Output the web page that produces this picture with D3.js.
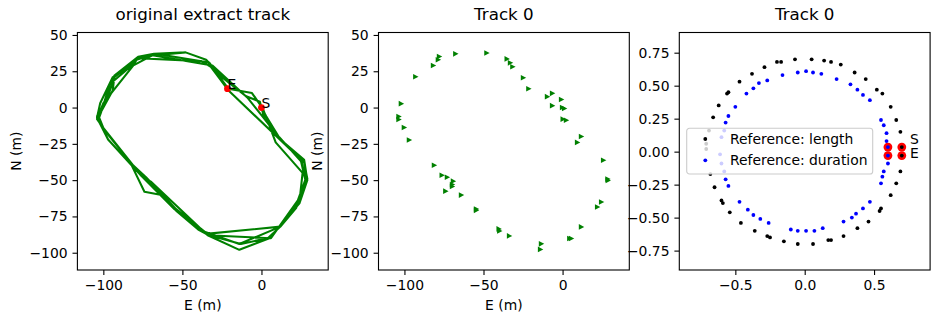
<html>
<head><meta charset="utf-8"></head>
<script src='https://d3js.org/d3.v7.min.js'></script>
<style>
body { margin: 0; background: white; }
text { font-family: 'DejaVu Sans', sans-serif; fill: black; }
</style>
<body>
<svg width=939 height=323></svg>
<script>
// GPS track, E / N in metres, several laps from S to E
const track = [
  [0,0],[3,-6],[12,-22],[27,-36],[29,-50],[24,-66],[13,-80],[5,-90],[-14,-98],[-34,-88],[-55,-70],[-76,-47],[-97,-22],[-104,-7],[-102,3],[-94,21],[-81,29],[-78,35],[-68,37],[-48,38],[-35,33],[-25,21],[-10,8],[-1,4],
  [2,-8],[11,-20],[25,-37],[28,-51],[22,-69],[12,-82],[-14,-94],[-40,-84],[-54,-71],[-69,-54],[-81,-40],[-100,-14],[-104,-6],[-97,8],[-93,21],[-79,33],[-67,37],[-33,31],[-21,13],[-6,10],[1,-1],
  [9,-24],[26,-45],[24,-65],[12,-82],[-35,-87],[-40,-84],[-64,-60],[-74,-58],[-82,-40],[-97,-22],[-103,-8],[-101,-2],[-96,16],[-82,29],[-78,34],[-38,32],[-32,28],[-21,12],[25,-36],
  [28,-49],[23,-64],[6,-90],[-34,-88],[-70,-51],[-76,-47],[-96,-20],[-104,-8],[-100,3],[-81,29],[-69,36],[-31,29],[-9,7],[2,-8],
  [12,-22],[27,-38],[29,-49],[22,-68],[12,-82],[4,-90],[-13,-94],[-33,-88],[-54,-70],[-73,-48],[-81,-40],[-100,-14],[-103,-6],[-94,12],[-93,22],[-78,35],[-48,38],[-35,33],[-21.5,13]
]
const trackMarks = [[0, 0, 'S'], [-21.5, 13, 'E']]

// resampled points of track 0
const sampleE = [-48,-67.7,-78,-78.7,-81.8,-35.2,-33.1,-31.6,-93,-24.9,-21.5,-6.5,-9.7,-0.8,-102.1,-6.5,-0.2,1.1,-103.6,-103.6,0.2,2.3,-100.2,-97,11.8,9.3,25.8,-81.2,-76.3,-73,-69.2,-69.8,-69.8,28.5,28.7,-74,-64.1,24.5,22,-54.6,-54.6,11.8,-40.3,-39.9,-33.7,4.4,5.5,-13.5,-14.1]
const sampleN = [37.6,37,35.1,32.9,29,33.5,30.8,28.1,21.2,20.5,13,9.8,7.5,5.5,2.7,1.3,0,-0.7,-6.2,-8.2,-8,-8.7,-13.7,-22.4,-19.9,-24,-36.3,-39.7,-46.6,-48,-50.7,-53,-54.4,-49.3,-50.2,-57.6,-60.3,-65.1,-68.5,-69.9,-70.8,-82.2,-83.6,-85,-88.4,-90.2,-90.2,-93.9,-97.7]

// reference by length (black) and by duration (blue)
const lengthX = [0.05,-0.07,0.14,0.19,-0.17,-0.2,0.26,-0.29,0.36,-0.38,0.44,-0.47,0.52,0.56,-0.55,-0.56,0.62,-0.62,0.66,-0.66,0.69,-0.69,-0.71,-0.71,-0.68,-0.65,-0.6,-0.59,-0.54,-0.46,-0.36,-0.27,-0.25,-0.15,-0.05,0.06,0.17,0.19,0.28,0.38,0.46,0.54,0.55,0.62,0.66,0.69,0.7,0.7]
const lengthY = [0.7,0.7,0.69,0.68,0.68,0.68,0.66,0.64,0.6,0.59,0.55,0.53,0.47,0.44,0.45,0.44,0.34,0.35,0.24,0.26,0.15,0.16,0.06,0.02,-0.17,-0.27,-0.37,-0.39,-0.46,-0.54,-0.6,-0.64,-0.65,-0.68,-0.7,-0.7,-0.67,-0.67,-0.64,-0.58,-0.53,-0.45,-0.43,-0.33,-0.24,-0.15,0.035,-0.03]
const durationX = [0.01,-0.05,0.06,0.12,-0.16,0.23,-0.27,-0.33,0.33,-0.37,0.38,-0.42,0.42,0.47,-0.5,-0.55,-0.57,-0.58,-0.6,0.55,0.57,0.59,0.59,0.6,0.6,0.6,0.57,0.56,0.55,-0.61,-0.6,-0.58,-0.57,-0.55,-0.47,-0.41,-0.37,-0.32,-0.26,-0.1,-0.05,0.01,0.07,0.13,0.28,0.34,0.37,0.42,0.47]
const durationY = [0.61,0.6,0.6,0.59,0.58,0.55,0.54,0.52,0.51,0.48,0.47,0.44,0.43,0.39,0.34,0.27,0.22,0.16,0.11,0.24,0.2,0.14,0.08,0.035,-0.03,-0.09,-0.15,-0.19,-0.24,-0.02,-0.09,-0.15,-0.21,-0.26,-0.38,-0.44,-0.48,-0.51,-0.54,-0.59,-0.6,-0.6,-0.6,-0.58,-0.53,-0.5,-0.47,-0.43,-0.38]
const refStartEnd = [[0.7, 0.035], [0.7, -0.03], [0.6, 0.035], [0.6, -0.03]]
const refLabels = [[0.76, 0.06, 'S'], [0.76, -0.05, 'E']]
const legendNames = ['Reference: length', 'Reference: duration']
const legendColors = ['black', 'blue']

// ticks
const eTicks = [-100, -50, 0]
const nTicks = [50, 25, 0, -25, -50, -75, -100]
const refXTicks = [-0.5, 0, 0.5]
const refYTicks = [0.75, 0.5, 0.25, 0, -0.25, -0.5, -0.75]

const svg = d3.select('svg')
const fs = 13.9
const plotTop = 32.5, W = 250.8, H = 237.5
const lefts = [77.4, 378.5, 679.3]

function panel(i, xDom, yDom, xT, yT, fx, fy, title, xlab, ylab) {
  const g = svg.append('g').attr('transform', `translate(${lefts[i]},${plotTop})`)
  const x = d3.scaleLinear().domain(xDom).range([0, W])
  const y = d3.scaleLinear().domain(yDom).range([H, 0])
  const xa = g.append('g').attr('transform', `translate(0,${H})`)
    .call(d3.axisBottom(x).tickValues(xT).tickFormat(d3.format(fx)).tickSizeOuter(0).tickSize(4.9).tickPadding(4.9))
  const ya = g.append('g')
    .call(d3.axisLeft(y).tickValues(yT).tickFormat(d3.format(fy)).tickSizeOuter(0).tickSize(4.9).tickPadding(4.9))
  for (const a of [xa, ya]) {
    a.select('.domain').remove()
    a.selectAll('line').attr('stroke-width', 1.1)
    a.selectAll('text').attr('font-size', fs).attr('font-family', 'DejaVu Sans')
  }
  g.append('text').attr('x', W / 2).attr('y', -12.2).attr('text-anchor', 'middle')
    .attr('font-size', 16.7).text(title)
  if (xlab) g.append('text').attr('x', W / 2).attr('y', H + 40)
    .attr('text-anchor', 'middle').attr('font-size', fs).text(xlab)
  if (ylab) g.append('text').attr('transform', `translate(-56.5,${H / 2}) rotate(-90)`)
    .attr('text-anchor', 'middle').attr('font-size', fs).text(ylab)
  const plot = g.append('g')
  return { g, plot, x, y }
}

function frame(p) {
  p.g.append('rect').attr('width', W).attr('height', H)
    .attr('fill', 'none').attr('stroke', 'black').attr('stroke-width', 1.1)
}

const eDom = [-116.4, 42.2], nDom = [-111.9, 51.7]

// panel 1: original track
const p1 = panel(0, eDom, nDom, eTicks, nTicks, 'd', 'd', 'original extract track', 'E (m)', 'N (m)')
p1.plot.append('path').datum(track)
  .attr('d', d3.line().x(d => p1.x(d[0])).y(d => p1.y(d[1])))
  .attr('fill', 'none').attr('stroke', 'green').attr('stroke-width', 2.08).attr('stroke-linejoin', 'round')
p1.plot.selectAll('circle').data(trackMarks).join('circle')
  .attr('cx', d => p1.x(d[0])).attr('cy', d => p1.y(d[1])).attr('r', 3.4).attr('fill', 'red')
p1.plot.selectAll('text.lab').data(trackMarks).join('text').attr('class', 'lab')
  .attr('x', d => p1.x(d[0])).attr('y', d => p1.y(d[1])).attr('font-size', fs).text(d => d[2])
frame(p1)

// panel 2: resampled points
const p2 = panel(1, eDom, nDom, eTicks, nTicks, 'd', 'd', 'Track 0', 'E (m)', 'N (m)')
p2.plot.selectAll('path').data(d3.range(sampleE.length)).join('path')
  .attr('transform', i => `translate(${p2.x(sampleE[i])},${p2.y(sampleN[i])})`)
  .attr('d', 'M-2.4,-2.8L3,0L-2.4,2.8Z').attr('fill', 'green')
frame(p2)

// panel 3: references on the unit circle
const p3 = panel(2, [-0.904, 0.904], [-0.897, 0.903], refXTicks, refYTicks, '.1f', '.2f', 'Track 0', null, null)
p3.plot.selectAll('circle.se').data(refStartEnd).join('circle').attr('class', 'se')
  .attr('cx', d => p3.x(d[0])).attr('cy', d => p3.y(d[1])).attr('r', 4.4).attr('fill', 'red')
p3.plot.selectAll('circle.len').data(lengthX).join('circle').attr('class', 'len')
  .attr('cx', d => p3.x(d)).attr('cy', (d, i) => p3.y(lengthY[i])).attr('r', 1.9).attr('fill', 'black')
p3.plot.selectAll('circle.dur').data(durationX).join('circle').attr('class', 'dur')
  .attr('cx', d => p3.x(d)).attr('cy', (d, i) => p3.y(durationY[i])).attr('r', 1.9).attr('fill', 'blue')
p3.plot.selectAll('text.lab').data(refLabels).join('text').attr('class', 'lab')
  .attr('x', d => p3.x(d[0])).attr('y', d => p3.y(d[1])).attr('font-size', fs).text(d => d[2])

// legend
const lg = p3.g.append('g').attr('transform', `translate(${686.7 - lefts[2]},${128.3 - plotTop})`)
lg.append('rect').attr('width', 186).attr('height', 45.7).attr('rx', 2.8)
  .attr('fill', 'white').attr('fill-opacity', 0.8).attr('stroke', '#cccccc').attr('stroke-width', 1.1)
lg.selectAll('circle').data(legendColors).join('circle')
  .attr('cx', 18.6).attr('cy', (d, i) => 10.7 + i * 21.3).attr('r', 1.9).attr('fill', d => d)
lg.selectAll('text').data(legendNames).join('text')
  .attr('x', 43.3).attr('y', (d, i) => 15.5 + i * 21.3).attr('font-size', fs).text(d => d)
frame(p3)
</script>
</body>
</html>
